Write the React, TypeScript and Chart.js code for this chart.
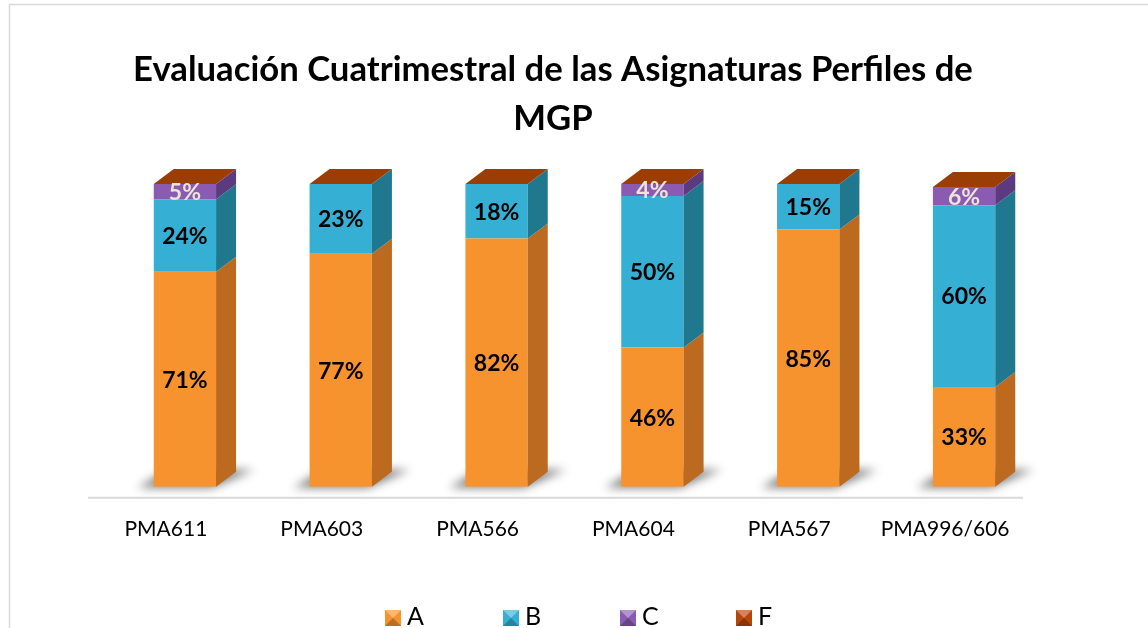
import { useEffect, useRef } from 'react';
import { Chart, registerables } from 'chart.js';

Chart.register(...registerables);

const categories = ['PMA611', 'PMA603', 'PMA566', 'PMA604', 'PMA567', 'PMA996/606'];
const seriesA = [71, 77, 82, 46, 85, 33];
const seriesB = [24, 23, 18, 50, 15, 60];
const seriesC = [5, 0, 0, 4, 0, 6];
const seriesF = [0, 0, 0, 0, 0, 0];
const seriesNames = ['A', 'B', 'C', 'F'];
const titleLines = ['Evaluación Cuatrimestral de las Asignaturas Perfiles de', 'MGP'];

const FRONT = ['#F7932F', '#35AFD3', '#8A5BB1', '#B5460A'];
const SIDE = ['#BB6A20', '#20788F', '#5B3A80', '#7A2E05'];
const TOPF = '#9B3E06';
const LABEL_COLORS = ['#000000', '#000000', '#EDE4D6'];
const FONT = 'Lato, "Open Sans", sans-serif';
const DX = 20;
const DY = 15;
const AXIS_SHIFT = 19;

const depthPlugin = {
  id: 'depth3d',
  beforeDatasetsDraw(chart: any) {
    const ctx = chart.ctx;
    const area = chart.chartArea;
    ctx.save();
    ctx.strokeStyle = '#D9D9D9';
    ctx.lineWidth = 2;
    ctx.beginPath();
    ctx.moveTo(area.left - AXIS_SHIFT, area.bottom + 11);
    ctx.lineTo(area.right - AXIS_SHIFT, area.bottom + 11);
    ctx.stroke();
    ctx.restore();
    const meta0 = chart.getDatasetMeta(0);
    meta0.data.forEach((bar: any) => {
      const w = bar.width;
      const x0 = bar.x - w / 2;
      const x1 = bar.x + w / 2;
      const b = bar.base;
      ctx.save();
      ctx.filter = 'blur(5px)';
      ctx.fillStyle = 'rgba(0,0,0,0.5)';
      ctx.beginPath();
      ctx.moveTo(x0 - 16, b + 1);
      ctx.lineTo(x1 - 4, b + 1);
      ctx.lineTo(x1 + DX + 18, b - DY - 2);
      ctx.lineTo(x0 + DX - 6, b - DY - 2);
      ctx.closePath();
      ctx.fill();
      ctx.restore();
    });
  },
  afterDatasetsDraw(chart: any) {
    const ctx = chart.ctx;
    const n = chart.data.labels.length;
    for (let i = 0; i < n; i++) {
      let topY = Infinity;
      let x0 = 0;
      let x1 = 0;
      for (let d = 0; d < chart.data.datasets.length; d++) {
        const bar: any = chart.getDatasetMeta(d).data[i];
        const v = chart.data.datasets[d].data[i];
        const w = bar.width;
        x0 = bar.x - w / 2;
        x1 = bar.x + w / 2;
        const yTop = Math.min(bar.y, bar.base);
        const yBot = Math.max(bar.y, bar.base);
        topY = Math.min(topY, yTop);
        if (v > 0) {
          ctx.fillStyle = SIDE[d];
          ctx.beginPath();
          ctx.moveTo(x1, yTop);
          ctx.lineTo(x1 + DX, yTop - DY);
          ctx.lineTo(x1 + DX, yBot - DY);
          ctx.lineTo(x1, yBot);
          ctx.closePath();
          ctx.fill();
        }
      }
      ctx.fillStyle = TOPF;
      ctx.beginPath();
      ctx.moveTo(x0, topY);
      ctx.lineTo(x1, topY);
      ctx.lineTo(x1 + DX, topY - DY);
      ctx.lineTo(x0 + DX, topY - DY);
      ctx.closePath();
      ctx.fill();
    }
    ctx.save();
    ctx.textAlign = 'center';
    ctx.textBaseline = 'middle';
    ctx.font = 'bold 23px ' + FONT;
    for (let d = 0; d < 3; d++) {
      const meta = chart.getDatasetMeta(d);
      meta.data.forEach((bar: any, i: number) => {
        const v = chart.data.datasets[d].data[i];
        if (!v) return;
        ctx.fillStyle = LABEL_COLORS[d];
        ctx.fillText(v + '%', bar.x, (bar.y + bar.base) / 2 + 1);
      });
    }
    ctx.restore();
  },
  afterDraw(chart: any) {
    const ctx = chart.ctx;
    ctx.save();
    ctx.strokeStyle = '#D9D9D9';
    ctx.lineWidth = 1.5;
    ctx.beginPath();
    ctx.moveTo(9.5, 640);
    ctx.lineTo(9.5, 4.5);
    ctx.lineTo(1150, 4.5);
    ctx.stroke();
    ctx.fillStyle = '#000';
    ctx.textAlign = 'center';
    ctx.textBaseline = 'alphabetic';
    ctx.font = 'bold 34.7px ' + FONT;
    ctx.fillText(titleLines[0], 553, 81);
    ctx.fillText(titleLines[1], 553, 130);
    const lx = [385, 503, 620, 736];
    ctx.font = '25px ' + FONT;
    ctx.textAlign = 'left';
    for (let k = 0; k < seriesNames.length; k++) {
      const x = lx[k];
      const y = 610;
      const s = 16;
      ctx.fillStyle = FRONT[k];
      ctx.fillRect(x, y, s, s);
      ctx.fillStyle = 'rgba(255,255,255,0.35)';
      ctx.beginPath();
      ctx.moveTo(x, y);
      ctx.lineTo(x + s, y);
      ctx.lineTo(x + s / 2, y + s / 2);
      ctx.closePath();
      ctx.fill();
      ctx.fillStyle = 'rgba(0,0,0,0.25)';
      ctx.beginPath();
      ctx.moveTo(x, y + s);
      ctx.lineTo(x + s, y + s);
      ctx.lineTo(x + s / 2, y + s / 2);
      ctx.closePath();
      ctx.fill();
      ctx.fillStyle = '#000';
      ctx.fillText(seriesNames[k], x + s + 6, y + 15);
    }
    ctx.restore();
  },
};

export default function App() {
  const ref = useRef<HTMLCanvasElement | null>(null);
  useEffect(() => {
    document.body.style.margin = '0';
    if (!ref.current) return;
    const chart = new Chart(ref.current, {
      type: 'bar',
      data: {
        labels: categories,
        datasets: [seriesA, seriesB, seriesC, seriesF].map((data, k) => ({
          label: seriesNames[k],
          data,
          backgroundColor: FRONT[k],
          borderWidth: 0,
          categoryPercentage: 1,
          barPercentage: 0.4,
        })),
      },
      options: {
        responsive: false,
        animation: false,
        layout: { padding: { left: 107, right: 106, top: 184, bottom: 56 } },
        plugins: {
          legend: { display: false },
          title: { display: false },
          tooltip: { enabled: false },
        },
        scales: {
          x: {
            stacked: true,
            grid: { display: false, drawTicks: false },
            border: { display: false },
            ticks: {
              font: { family: FONT, size: 21 },
              color: '#000',
              padding: 30,
              labelOffset: -AXIS_SHIFT,
              maxRotation: 0,
              autoSkip: false,
            },
          },
          y: { stacked: true, display: false, min: 0, max: 100 },
        },
      },
      plugins: [depthPlugin],
    });
    return () => chart.destroy();
  }, []);
  return <canvas ref={ref} width={1148} height={628} style={{ display: 'block' }} />;
}
